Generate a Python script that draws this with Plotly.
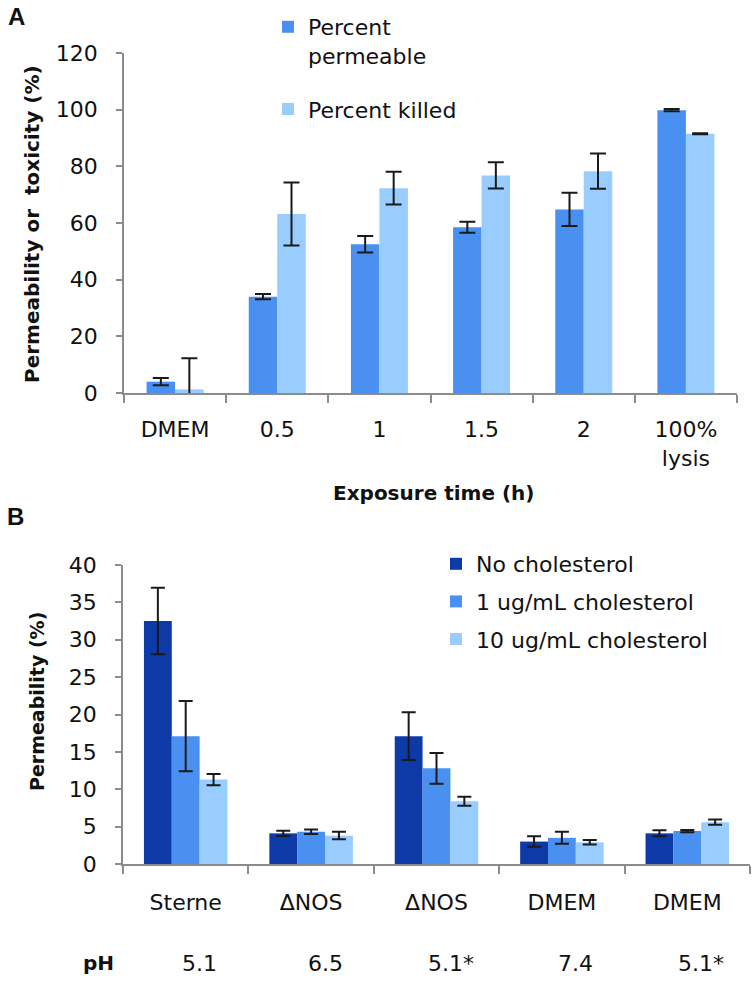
import plotly.graph_objects as go

# ---------------- Panel A data ----------------
a_categories = ["DMEM", "0.5", "1", "1.5", "2", "100%<br>lysis"]
a_permeable = [4.0, 34.0, 52.5, 58.5, 64.8, 99.8]
a_permeable_err = [1.3, 0.9, 2.9, 1.9, 5.9, 0.4]
a_killed = [1.3, 63.2, 72.3, 76.8, 78.3, 91.5]
a_killed_err = [11.0, 11.1, 5.8, 4.6, 6.2, 0.2]

# ---------------- Panel B data ----------------
b_categories = ["Sterne", "ΔNOS", "ΔNOS", "DMEM", "DMEM"]
b_ph = ["5.1", "6.5", "5.1*", "7.4", "5.1*"]
b_no_chol = [32.5, 4.1, 17.1, 3.0, 4.1]
b_no_chol_err = [4.45, 0.35, 3.2, 0.7, 0.4]
b_1ug = [17.1, 4.3, 12.8, 3.5, 4.4]
b_1ug_err = [4.7, 0.3, 2.05, 0.8, 0.15]
b_10ug = [11.3, 3.8, 8.4, 2.9, 5.6]
b_10ug_err = [0.75, 0.5, 0.6, 0.3, 0.35]

W, H = 754, 982
FONT = "DejaVu Sans"
DARK = "#0E3AA8"
MID = "#4A90F0"
LIGHT = "#99CCFF"
AXIS = "#8C8C8C"
ERR = "#1A1A1A"

a_keys = [f"a{i}" for i in range(len(a_categories))]
b_keys = [f"b{i}" for i in range(len(b_categories))]


def px(x):
    return x / W


def py(y):
    return 1 - y / H


def err(arr, w):
    return dict(type="data", array=arr, color=ERR, thickness=2, width=w, visible=True)


fig = go.Figure()

aw = 0.279
fig.add_trace(go.Bar(x=a_keys, y=a_permeable, name="Percent<br>permeable",
                     marker=dict(color=MID, line=dict(width=0)),
                     width=aw, offset=-aw, error_y=err(a_permeable_err, 8),
                     xaxis="x", yaxis="y", legend="legend", legendgroup="a1"))
fig.add_trace(go.Bar(x=a_keys, y=a_killed, name="Percent killed",
                     marker=dict(color=LIGHT, line=dict(width=0)),
                     width=aw, offset=0, error_y=err(a_killed_err, 8),
                     xaxis="x", yaxis="y", legend="legend", legendgroup="a2"))

bw = 0.222
for vals, errs, name, col, off, g in [
    (b_no_chol, b_no_chol_err, "No cholesterol", DARK, -1.5 * bw, "b1"),
    (b_1ug, b_1ug_err, "1 ug/mL cholesterol", MID, -0.5 * bw, "b2"),
    (b_10ug, b_10ug_err, "10 ug/mL cholesterol", LIGHT, 0.5 * bw, "b3"),
]:
    fig.add_trace(go.Bar(x=b_keys, y=vals, name=name,
                         marker=dict(color=col, line=dict(width=0)),
                         width=bw, offset=off, error_y=err(errs, 7),
                         xaxis="x2", yaxis="y2", legend="legend2", legendgroup=g))

axis_common = dict(showline=True, linecolor=AXIS, linewidth=1.5, ticks="outside",
                   tickcolor=AXIS, tickwidth=1.5, showgrid=False, zeroline=False,
                   automargin=False,
                   tickfont=dict(family=FONT, size=22, color="#111111"))

fig.update_layout(
    width=W, height=H,
    margin=dict(l=0, r=0, t=0, b=0, autoexpand=False),
    paper_bgcolor="white", plot_bgcolor="white",
    font=dict(family=FONT, size=22, color="#111111"),
    barmode="overlay",
    showlegend=True,
    xaxis=dict(domain=[px(124), px(737)], anchor="y", type="category",
               tickmode="array", tickvals=a_keys, ticktext=a_categories,
               tickson="boundaries", ticklen=8, ticklabelstandoff=16,
               range=[-0.5, len(a_keys) - 0.5], **axis_common),
    yaxis=dict(domain=[py(393), py(53)], anchor="x", range=[0, 120], dtick=20,
               ticklen=6, ticklabelstandoff=14, **axis_common),
    xaxis2=dict(domain=[px(123), px(750)], anchor="y2", type="category",
                tickmode="array", tickvals=b_keys, ticktext=b_categories,
                tickson="boundaries", ticklen=8, ticklabelstandoff=18,
                range=[-0.5, len(b_keys) - 0.5], **axis_common),
    yaxis2=dict(domain=[py(864), py(565)], anchor="x2", range=[0, 40], dtick=5,
                ticklen=6, ticklabelstandoff=14, **axis_common),
    legend=dict(x=px(268), y=py(6), xanchor="left", yanchor="top",
                bgcolor="rgba(0,0,0,0)", font=dict(family=FONT, size=22),
                traceorder="grouped", tracegroupgap=22, valign="top"),
    legend2=dict(x=px(436), y=py(543), xanchor="left", yanchor="top",
                 bgcolor="rgba(0,0,0,0)", font=dict(family=FONT, size=22),
                 traceorder="grouped", tracegroupgap=6),
)


def note(text, x, y, size, angle=0, family=FONT, xref="paper", xshift=0):
    return dict(text=text, x=x, y=y, xref=xref, yref="paper", textangle=angle,
                xanchor="center", yanchor="middle", xshift=xshift,
                showarrow=False, font=dict(family=family, size=size, color="#111111"))


ann = [
    note("<b>A</b>", px(16), py(17), 24, family="Liberation Sans"),
    note("<b>B</b>", px(15), py(516), 24, family="Liberation Sans"),
    note("<b>Exposure time (h)</b>", px(433), py(493), 20),
    note("<b>Permeability or\u00a0 toxicity (%)</b>", px(32), py(224), 20, angle=-90),
    note("<b>Permeability (%)</b>", px(37), py(702), 19, angle=-90),
    note("<b>pH</b>", px(99), py(963), 20),
]
for k, v in zip(b_keys, b_ph):
    ann.append(note(v, k, py(963), 22, xref="x2", xshift=14))
fig.update_layout(annotations=ann)

fig.write_html("out.html", config={"displayModeBar": False},
               post_script="document.body.style.margin='0px';")
